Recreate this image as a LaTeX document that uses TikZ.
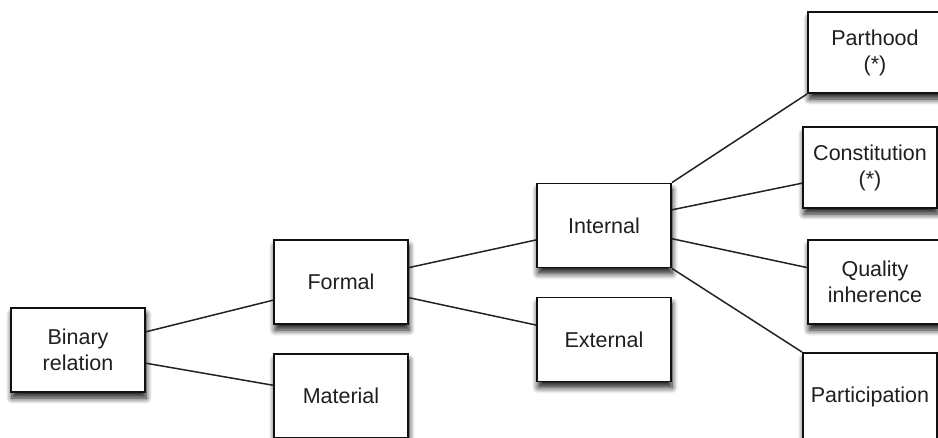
\documentclass[tikz,border=0pt]{standalone}
\usepackage{fontspec}
\setmainfont{Liberation Sans}
\usepackage{tikz}
\usetikzlibrary{shadows.blur}
\usepackage{xcolor}
\definecolor{BoxLine}{HTML}{111111}
\definecolor{BoxText}{HTML}{1F1F1F}
\definecolor{LinkGray}{HTML}{222222}
\tikzset{
    % Relation boxes
    relbox/.style={
        rectangle,
        draw=BoxLine,
        fill=white,
        line width=1.9pt,
        minimum width=134pt,
        minimum height=84pt,
        align=center,
        text=BoxText,
        font=\fontsize{21.5}{26}\selectfont,
        blur shadow={shadow xshift=1pt, shadow yshift=-6pt,
            shadow blur radius=6pt, shadow blur steps=8, shadow opacity=90}
    },
    % Plain links between boxes
    link/.style={
        draw=LinkGray,
        line width=1.5pt
    }
}

\begin{document}
\begin{tikzpicture}[x=1pt,y=-1pt]
    \useasboundingbox (0,0) rectangle (938,437);
    \clip (0,0) rectangle (938,437);

    % Root and first level
    \node[relbox] (binary) at (78,350) {Binary\\relation};
    \node[relbox] (formal) at (341,282) {Formal};
    \node[relbox] (material) at (341,396) {Material};

    % Second level
    \node[relbox] (internal) at (604,225.5) {Internal};
    \node[relbox] (external) at (604,339.5) {External};

    % Leaves
    \node[relbox,minimum height=81pt] (parthood) at (875,52.5) {Parthood\\(*)};
    \node[relbox,minimum height=81pt] (constitution) at (870,167.5) {Constitution\\(*)};
    \node[relbox] (quality) at (875,282) {Quality\\inherence};
    \node[relbox,minimum height=88pt] (participation) at (870,397) {Participation};

    % Links
    \draw[link] (binary.15) -- (formal.195);
    \draw[link] (binary.-11) -- (material.171);
    \draw[link] (formal.12) -- (internal.192);
    \draw[link] (formal.-13) -- (external.168);
    \draw[link] (internal.north east) -- (parthood.south west);
    \draw[link] (internal.13) -- (constitution.193);
    \draw[link] (internal.-11) -- (quality.168);
    \draw[link] (internal.south east) -- (participation.north west);
\end{tikzpicture}
\end{document}
